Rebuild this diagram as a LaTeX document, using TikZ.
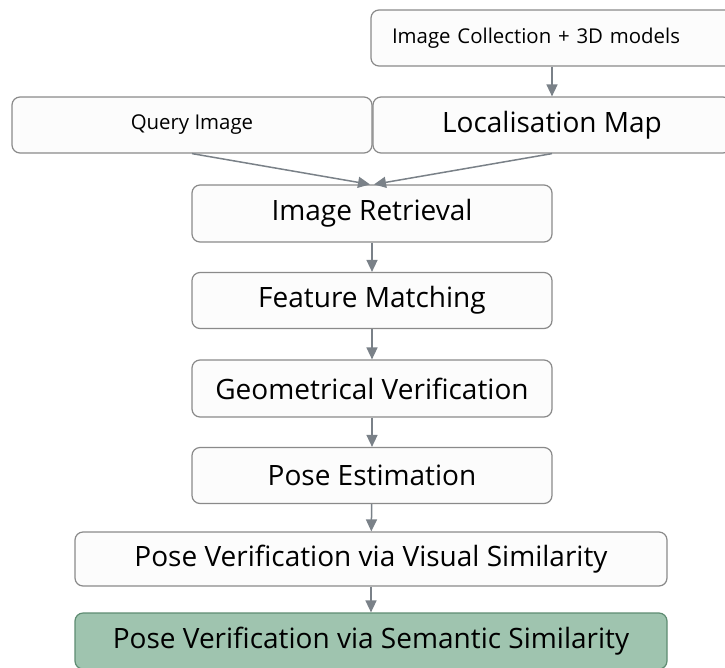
\documentclass[tikz,border=0pt]{standalone}
\usepackage{fontspec}
\setmainfont{Open Sans}
\usetikzlibrary{arrows.meta}

\definecolor{boxline}{HTML}{8A8A8A}
\definecolor{boxfill}{HTML}{FCFCFC}
\definecolor{arrowgray}{HTML}{7A8188}
\definecolor{semfill}{HTML}{9FC4AF}
\definecolor{semline}{HTML}{5E8C72}

\tikzset{
  stage/.style={draw=boxline, fill=boxfill, line width=1.2pt, rounded corners=8pt,
    inner sep=0pt, align=center, text=black,
    font=\fontsize{28}{32}\selectfont},
  smallstage/.style={stage, font=\fontsize{20.4}{24}\selectfont},
  flow/.style={draw=arrowgray, line width=1.5pt,
    -{Triangle[length=12pt,width=11pt]}},
}

\begin{document}
\begin{tikzpicture}[x=1pt,y=-1pt]
\useasboundingbox (0,0) rectangle (725,667);

% inputs
\node[smallstage, minimum height=56pt, text width=322pt, inner xsep=21pt, align=left]
  (coll) at (553,38) {Image Collection + 3D models};
\node[smallstage, minimum width=360pt, minimum height=56pt] (query) at (192,125) {Query Image};
\node[stage, minimum width=358pt, minimum height=56pt] (locmap) at (552,125) {Localisation Map};

% pipeline
\node[stage, minimum width=360pt, minimum height=57pt] (retr) at (372,213.5) {Image Retrieval};
\node[stage, minimum width=360pt, minimum height=56pt] (feat) at (372,300.5) {Feature Matching};
\node[stage, minimum width=360pt, minimum height=57pt] (geom) at (372,388.5) {Geometrical Verification};
\node[stage, minimum width=360pt, minimum height=56pt] (pose) at (372,475.5) {Pose Estimation};
\node[stage, minimum width=592pt, minimum height=54pt] (vis) at (371,559) {Pose Verification via Visual Similarity};
\node[stage, draw=semline, fill=semfill, minimum width=592pt, minimum height=56pt] (sem) at (371,641) {Pose Verification via Semantic Similarity};

% connectors
\coordinate (retrL) at ([xshift=-2pt]retr.north);
\coordinate (retrR) at ([xshift=2pt]retr.north);
\draw[flow] (coll.south -| locmap.south) -- (locmap.north);
\draw[flow] (query.south) -- (retrL);
\draw[flow] (locmap.south) -- (retrR);
\draw[flow] (retr) -- (feat);
\draw[flow] (feat) -- (geom);
\draw[flow] (geom) -- (pose);
\draw[flow] (pose) -- (vis);
\draw[flow] (vis) -- (sem);
\end{tikzpicture}
\end{document}
